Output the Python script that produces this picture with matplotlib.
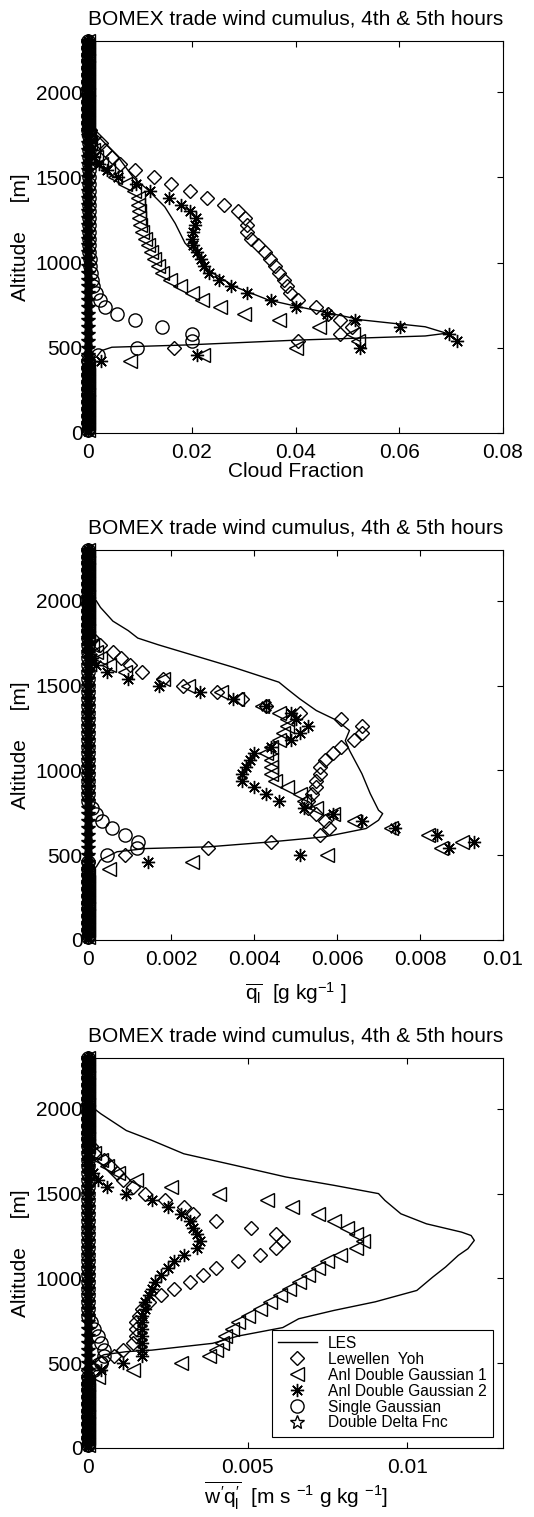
import matplotlib
matplotlib.use("Agg")
import matplotlib.pyplot as plt
from matplotlib.lines import Line2D

plt.rcParams['font.family'] = ['Liberation Sans', 'DejaVu Sans']
plt.rcParams['mathtext.fontset'] = 'custom'
plt.rcParams['mathtext.rm'] = 'Liberation Sans'
plt.rcParams['mathtext.it'] = 'Liberation Sans'
plt.rcParams['mathtext.bf'] = 'Liberation Sans:bold'

# model levels (m): cloud layer, and the clear levels where every scheme gives 0
z_cloud = [420, 460, 500, 540, 580, 620, 660, 700, 740, 780, 820, 860, 900, 940,
           980, 1020, 1060, 1100, 1140, 1180, 1220, 1260, 1300, 1340, 1380, 1420,
           1460, 1500, 1540, 1580, 1620, 1660, 1700, 1740, 1780]
z_clear = [20, 60, 100, 140, 180, 220, 260, 300, 340, 380,
           1820, 1860, 1900, 1940, 1980, 2020, 2060, 2100, 2140, 2180, 2220, 2260, 2300]
clear_vals = [0, 0, 0, 0, 0, 0, 0, 0, 0, 0,
              0, 0, 0, 0, 0, 0, 0, 0, 0, 0, 0, 0, 0]

# ---- cloud fraction ----
les_cf_z = [2300, 1780, 1740, 1620, 1500, 1425, 1327, 1230, 1114, 1055, 956, 858, 780,
            741, 663, 623, 585, 569, 545, 516, 503, 483, 448, 420, 0]
les_cf = [0, 0, 0.002, 0.0058, 0.0087, 0.0116, 0.0148, 0.0168, 0.0187, 0.0206, 0.0232,
          0.0283, 0.0348, 0.0405, 0.0528, 0.065, 0.0691, 0.065, 0.0405, 0.0187, 0.0046,
          0.0026, 0.0017, 0, 0]
ly_cf = [0, 0, 0.0165, 0.0405, 0.0486, 0.0508, 0.0486, 0.0463, 0.0439, 0.0405, 0.0390,
         0.0383, 0.0377, 0.0369, 0.0360, 0.0351, 0.0341, 0.0327, 0.0314, 0.0306, 0.0306,
         0.0302, 0.0290, 0.0262, 0.0230, 0.0197, 0.0160, 0.0127, 0.0090, 0.0062, 0.0046,
         0.0033, 0.0025, 0.0012, 0.0004]
dg1_cf = [0.0081, 0.0221, 0.0400, 0.0520, 0.0510, 0.0445, 0.0368, 0.0300, 0.0255, 0.0219,
          0.0200, 0.0177, 0.0158, 0.0142, 0.0134, 0.0128, 0.0122, 0.0116, 0.0110, 0.0104,
          0.0100, 0.0098, 0.0098, 0.0097, 0.0097, 0.0088, 0.0072, 0.0053, 0.0038, 0.0026,
          0.0016, 0.0009, 0.0004, 0.0001, 0]
dg2_cf = [0.0026, 0.0211, 0.0524, 0.0711, 0.0695, 0.0601, 0.0515, 0.0460, 0.0400, 0.0352,
          0.0307, 0.0275, 0.0253, 0.0234, 0.0224, 0.0217, 0.0211, 0.0203, 0.0201, 0.0203,
          0.0206, 0.0209, 0.0197, 0.0180, 0.0157, 0.0120, 0.0092, 0.0058, 0.0036, 0.0022,
          0.0012, 0.0006, 0.0003, 0, 0]
sg_cf = [0, 0.0020, 0.0094, 0.0200, 0.0200, 0.0142, 0.0090, 0.0055, 0.0033, 0.0023,
         0.0015, 0.0010, 0.0007, 0.0005, 0.0004, 0.0003, 0.0002, 0.0002, 0.0002, 0.0002,
         0.0002, 0.0002, 0.0002, 0.0002, 0.0002, 0.0002, 0.0002, 0.0002, 0.0002, 0.0002,
         0.0002, 0.0002, 0.0002, 0.0001, 0]
dd_cf = [0, 0, 0, 0, 0, 0, 0, 0, 0, 0, 0, 0, 0, 0, 0, 0, 0, 0, 0, 0,
         0, 0, 0, 0, 0, 0, 0, 0, 0, 0, 0, 0, 0, 0, 0]

# ---- liquid water mixing ratio ----
les_ql_z = [2300, 2020, 2000, 1961, 1880, 1824, 1780, 1740, 1696, 1608, 1520, 1480, 1422,
            1353, 1294, 1235, 1176, 1118, 980, 863, 765, 745, 706, 657, 608, 578, 549,
            539, 520, 471, 431, 400, 0]
les_ql = [0, 0, 0.0002, 0.0003, 0.0006, 0.00097, 0.0012, 0.0017, 0.0023, 0.0035, 0.0046,
          0.0048, 0.0051, 0.0055, 0.0060, 0.0063, 0.0062, 0.0063, 0.0066, 0.0068, 0.0070,
          0.0071, 0.0070, 0.0067, 0.0057, 0.0044, 0.0029, 0.0014, 0.0007, 0.0003, 0.0002,
          0, 0]
ly_ql = [0, 0, 0.0009, 0.0029, 0.0044, 0.0056, 0.0058, 0.0057, 0.0055, 0.0053, 0.0053,
         0.0054, 0.0055, 0.0055, 0.0056, 0.0056, 0.0057, 0.0059, 0.0061, 0.0064, 0.0066,
         0.0066, 0.0061, 0.0051, 0.0043, 0.0037, 0.0031, 0.0023, 0.0018, 0.0013, 0.0010,
         0.0008, 0.0006, 0.0003, 0.0001]
dg1_ql = [0.0005, 0.0025, 0.00575, 0.0085, 0.0090, 0.0082, 0.0073, 0.0064, 0.0059, 0.0055,
          0.0052, 0.0051, 0.0048, 0.0045, 0.0044, 0.0044, 0.0044, 0.0043, 0.0044, 0.0046,
          0.0047, 0.0048, 0.0048, 0.0046, 0.0042, 0.0036, 0.0032, 0.0024, 0.0018, 0.0009,
          0.0005, 0.0003, 0.0002, 0.0001, 0]
dg2_ql = [0, 0.00145, 0.0051, 0.0087, 0.0093, 0.0084, 0.0074, 0.0066, 0.0059, 0.0052,
          0.0046, 0.0043, 0.0040, 0.0037, 0.0037, 0.0038, 0.0039, 0.0040, 0.0044, 0.0049,
          0.0051, 0.0053, 0.0050, 0.0049, 0.0043, 0.0035, 0.0027, 0.0017, 0.00096, 0.00045,
          0.0002, 0.0001, 0, 0, 0]
sg_ql = [0, 0, 0.00045, 0.00117, 0.00121, 0.00089, 0.00057, 0.00033, 0.0002, 0.0001,
         0, 0, 0, 0, 0, 0, 0, 0, 0, 0, 0, 0, 0, 0, 0, 0, 0, 0, 0, 0, 0, 0, 0, 0, 0]
dd_ql = [0, 0, 0, 0, 0, 0, 0, 0, 0, 0, 0, 0, 0, 0, 0, 0, 0, 0, 0, 0,
         0, 0, 0, 0, 0, 0, 0, 0, 0, 0, 0, 0, 0, 0, 0]

# ---- liquid water flux ----
les_wq_z = [2300, 2020, 2000, 1971, 1872, 1814, 1735, 1667, 1598, 1549, 1500, 1460, 1381,
            1322, 1273, 1253, 1224, 1175, 1136, 1067, 1008, 929, 862, 811, 762, 710, 660,
            617, 577, 568, 550, 520, 480, 0]
les_wq = [0, 0, 0.0002, 0.0004, 0.0012, 0.0020, 0.0030, 0.0046, 0.0062, 0.0077, 0.0091,
          0.0093, 0.0098, 0.0106, 0.0117, 0.0120, 0.0121, 0.0119, 0.0116, 0.0112, 0.0108,
          0.0103, 0.0090, 0.0077, 0.0066, 0.0061, 0.0047, 0.0039, 0.0020, 0.0012, 0.0005,
          0.0002, 0, 0]
ly_wq = [0, 0, 0.0004, 0.0008, 0.0011, 0.0014, 0.0015, 0.0015, 0.0015, 0.0016, 0.0017,
         0.0019, 0.0023, 0.0027, 0.0032, 0.0036, 0.0040, 0.0047, 0.0054, 0.0059, 0.0061,
         0.0059, 0.0051, 0.0040, 0.0033, 0.0030, 0.0024, 0.0018, 0.0014, 0.0011, 0.0009,
         0.0007, 0.0005, 0.0002, 0.0001]
dg1_wq = [0.0003, 0.0014, 0.0029, 0.0038, 0.0040, 0.0042, 0.0043, 0.0045, 0.0047, 0.0050,
          0.0054, 0.0057, 0.0060, 0.0063, 0.0066, 0.0069, 0.0072, 0.0075, 0.0079, 0.0084,
          0.0086, 0.0084, 0.0081, 0.0077, 0.0072, 0.0064, 0.0056, 0.0041, 0.0026, 0.0015,
          0.00095, 0.0006, 0.0004, 0.0002, 0]
dg2_wq = [0, 0.0004, 0.0011, 0.0017, 0.0017, 0.0017, 0.0017, 0.0017, 0.0017, 0.0017,
          0.0018, 0.0018, 0.0019, 0.0020, 0.0021, 0.0023, 0.0025, 0.0027, 0.0030, 0.0034,
          0.0035, 0.0034, 0.0033, 0.0032, 0.0029, 0.0025, 0.0020, 0.0012, 0.0006, 0.0003,
          0.00015, 0, 0, 0, 0]
sg_wq = [0, 0.0002, 0.0004, 0.0005, 0.0005, 0.0004, 0.0003, 0.0002, 0.0001, 0,
         0, 0, 0, 0, 0, 0, 0, 0, 0, 0, 0, 0, 0, 0, 0, 0, 0, 0, 0, 0, 0, 0, 0, 0, 0]
dd_wq = [0, 0, 0, 0, 0, 0, 0, 0, 0, 0, 0, 0, 0, 0, 0, 0, 0, 0, 0, 0,
         0, 0, 0, 0, 0, 0, 0, 0, 0, 0, 0, 0, 0, 0, 0]

labels = ['LES', 'Lewellen  Yoh', 'Anl Double Gaussian 1', 'Anl Double Gaussian 2',
          'Single Gaussian', 'Double Delta Fnc']

panels = [
    dict(rect=[0.1648, 0.7146, 0.7772, 0.2584], les=(les_cf, les_cf_z),
         series=[ly_cf, dg1_cf, dg2_cf, sg_cf, dd_cf], xlim=0.08,
         xticks=[0, 0.02, 0.04, 0.06, 0.08], xtl=['0', '0.02', '0.04', '0.06', '0.08'],
         xlabel='Cloud Fraction', xl_y=-0.074),
    dict(rect=[0.1648, 0.3804, 0.7772, 0.2571], les=(les_ql, les_ql_z),
         series=[ly_ql, dg1_ql, dg2_ql, sg_ql, dd_ql], xlim=0.01,
         xticks=[0, 0.002, 0.004, 0.006, 0.008, 0.01],
         xtl=['0', '0.002', '0.004', '0.006', '0.008', '0.01'],
         xlabel=r'$\overline{q_{l}}$  [g kg$^{-1}$ ]', xl_y=-0.104),
    dict(rect=[0.1648, 0.0455, 0.7772, 0.2571], les=(les_wq, les_wq_z),
         series=[ly_wq, dg1_wq, dg2_wq, sg_wq, dd_wq], xlim=0.013,
         xticks=[0, 0.005, 0.01], xtl=['0', '0.005', '0.01'],
         xlabel=r"$\overline{w^{\prime}q_{l}^{\prime}}$  [m s $^{-1}$ g kg $^{-1}$]",
         xl_y=-0.082),
]

marker_styles = [
    dict(marker='D', ms=7.5, mfc='none'),
    dict(marker='<', ms=10.5, mfc='none'),
    dict(marker=(8, 2, 0), ms=9.5, mfc='none'),
    dict(marker='o', ms=9.5, mfc='none'),
    dict(marker='*', ms=10.5, mfc='k'),   # dense stack at x=0 shows as a solid column
]

fig = plt.figure(figsize=(5.34, 15.17), dpi=100)

for i, p in enumerate(panels):
    ax = fig.add_axes(p['rect'])
    ax.plot(p['les'][0], p['les'][1], color='k', lw=1.0)
    for vals, st in zip(p['series'], marker_styles):
        ax.plot(vals + clear_vals, z_cloud + z_clear, ls='none', marker=st['marker'],
                ms=st['ms'], mfc=st['mfc'], mec='k', mew=1.0, clip_on=False)

    ax.set_xlim(0, p['xlim'])
    ax.set_ylim(0, 2300)
    ax.set_xticks(p['xticks'])
    ax.set_xticklabels(p['xtl'])
    ax.set_yticks([0, 500, 1000, 1500, 2000])
    ax.set_yticklabels(['0', '500', '1000', '1500', '2000'])
    ax.tick_params(direction='in', top=True, right=True, length=4.5, width=0.8,
                   labelsize=15)
    ax.tick_params(axis='x', pad=7)
    ax.tick_params(axis='y', pad=4)
    for s in ax.spines.values():
        s.set_linewidth(0.8)

    ax.set_title('BOMEX trade wind cumulus, 4th & 5th hours', fontsize=15, pad=12)
    ax.set_ylabel('Altitude     [m]', fontsize=15)
    ax.yaxis.set_label_coords(-0.14, 0.5)
    ax.set_xlabel(p['xlabel'], fontsize=15)
    ax.xaxis.set_label_coords(0.5, p['xl_y'])

    if i == 2:
        # legend keys drawn open, as in the key box of the original
        handles = [Line2D([], [], color='k', lw=1.0)]
        for st in marker_styles:
            handles.append(Line2D([], [], ls='none', marker=st['marker'], ms=st['ms'],
                                  mfc='none', mec='k', mew=1.0))
        leg = ax.legend(handles, labels, loc='lower right', bbox_to_anchor=(0.975, 0.029),
                        borderaxespad=0, fontsize=11.2, frameon=True, fancybox=False,
                        edgecolor='k', framealpha=1, handlelength=2.5, handletextpad=0.7,
                        labelspacing=0.06, borderpad=0.4)
        leg.get_frame().set_linewidth(0.8)

fig.savefig('out.png', dpi=100, facecolor='white')
